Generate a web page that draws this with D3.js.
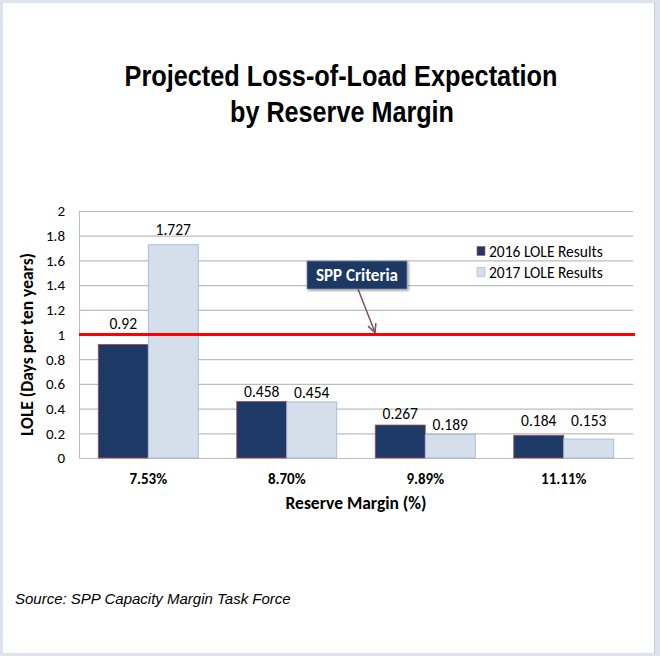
<!DOCTYPE html>
<html>
<head>
<meta charset="utf-8">
<script src="https://cdn.jsdelivr.net/npm/d3@7"></script>
<style>
  html, body { margin: 0; padding: 0; background: #dce3ef; }
  svg { display: block; }
</style>
</head>
<body>
<div id="chart"></div>
<script>
const categories = ["7.53%", "8.70%", "9.89%", "11.11%"];
const seriesNames = ["2016 LOLE Results", "2017 LOLE Results"];
const lole2016 = [0.92, 0.458, 0.267, 0.184];
const lole2017 = [1.727, 0.454, 0.189, 0.153];
const yTicks = [0, 0.2, 0.4, 0.6, 0.8, 1, 1.2, 1.4, 1.6, 1.8, 2];
const criteria = 1;

// how far each value label sits above its bar (px), as placed in the original
const labelLift = [[15, 10], [4, 4], [6, 5], [9, 13]];

const width = 660, height = 656;
const margin = { top: 211, right: 27, bottom: 198, left: 79 };
const fontMain = "Carlito, Lato, 'Open Sans', sans-serif";

const colors = {
  dark: "#1d3a66", darkStroke: "#b04a52",
  light: "#d5deeb", lightStroke: "#9cb4d8",
  grid: "#bdbdbd", red: "#ff0000", arrow: "#7f4f5f"
};

const data = categories.map((c, i) => ({ cat: c, idx: i, values: [lole2016[i], lole2017[i]] }));

const svg = d3.select("#chart").append("svg")
  .attr("width", width).attr("height", height);

// frame
svg.append("rect").attr("width", width).attr("height", height).attr("fill", "#dce3ef");
svg.append("rect").attr("x", 3).attr("y", 3).attr("width", 651).attr("height", 650)
  .attr("fill", "#fff");
svg.append("line").attr("x1", 654.5).attr("x2", 654.5).attr("y1", 3).attr("y2", 653)
  .attr("stroke", "#c8ccd4");

const x = d3.scaleBand().domain(categories)
  .range([margin.left, width - margin.right])
  .paddingInner(0.278).paddingOuter(0.139);
const xs = d3.scaleBand().domain([0, 1]).range([0, x.bandwidth()]);
const y = d3.scaleLinear().domain([0, 2]).range([height - margin.bottom, margin.top]);

// title
const title = svg.append("text").attr("text-anchor", "middle")
  .attr("font-family", "'Liberation Sans Narrow', 'Arial Narrow', 'Liberation Sans', sans-serif")
  .attr("font-weight", "bold").attr("font-size", 30).attr("fill", "#000")
  .attr("lengthAdjust", "spacingAndGlyphs");
title.append("tspan").attr("x", 341).attr("y", 86)
  .attr("textLength", 433).attr("lengthAdjust", "spacingAndGlyphs")
  .text("Projected Loss-of-Load Expectation");
title.append("tspan").attr("x", 342).attr("y", 122)
  .attr("textLength", 224).attr("lengthAdjust", "spacingAndGlyphs")
  .text("by Reserve Margin");

// grid + y axis
const yAxis = svg.append("g")
  .attr("transform", `translate(${margin.left},0)`)
  .call(d3.axisLeft(y).tickValues(yTicks).tickFormat(d3.format("~g"))
    .tickSize(-(x.range()[1] - margin.left)).tickPadding(14));
yAxis.select(".domain").attr("stroke", colors.grid);
yAxis.selectAll(".tick line").attr("stroke", colors.grid).attr("stroke-width", 1.2);
yAxis.selectAll(".tick text").attr("font-family", fontMain).attr("font-size", 15).attr("fill", "#000");

// x axis
const xAxis = svg.append("g")
  .attr("transform", `translate(0,${y(0)})`)
  .call(d3.axisBottom(x).tickSize(0).tickPadding(15));
xAxis.select(".domain").attr("stroke", colors.grid).attr("stroke-width", 1.2);
xAxis.selectAll(".tick text").attr("font-family", fontMain).attr("font-size", 15)
  .attr("font-weight", "bold").attr("fill", "#000");

// bars
const groups = svg.append("g").selectAll("g").data(data).join("g")
  .attr("transform", d => `translate(${x(d.cat)},0)`);
groups.selectAll("rect").data(d => d.values).join("rect")
  .attr("x", (v, i) => xs(i))
  .attr("y", v => y(v))
  .attr("width", xs.bandwidth())
  .attr("height", v => y(0) - y(v))
  .attr("fill", (v, i) => i === 0 ? colors.dark : colors.light)
  .attr("stroke", (v, i) => i === 0 ? colors.darkStroke : colors.lightStroke)
  .attr("stroke-width", 0.8);
groups.selectAll("text").data(d => d.values.map((v, i) => ({ v, i, lift: labelLift[d.idx][i] })))
  .join("text")
  .attr("x", d => xs(d.i) + xs.bandwidth() / 2)
  .attr("y", d => y(d.v) - d.lift)
  .attr("text-anchor", "middle")
  .attr("font-family", fontMain).attr("font-size", 15.5).attr("fill", "#000")
  .text(d => String(d.v));

// criteria line
svg.append("line")
  .attr("x1", margin.left).attr("x2", x.range()[1] + 2)
  .attr("y1", y(criteria)).attr("y2", y(criteria))
  .attr("stroke", colors.red).attr("stroke-width", 3);

// legend
const legend = svg.append("g").selectAll("g").data(seriesNames).join("g")
  .attr("transform", (d, i) => `translate(477,${251 + i * 21})`);
legend.append("rect").attr("x", 0).attr("y", -4.5).attr("width", 8).attr("height", 9)
  .attr("fill", (d, i) => i === 0 ? colors.dark : colors.light)
  .attr("stroke", (d, i) => i === 0 ? colors.darkStroke : colors.lightStroke)
  .attr("stroke-width", 0.6);
legend.append("text").attr("x", 12).attr("y", 5.5)
  .attr("font-family", fontMain).attr("font-size", 15.5).attr("fill", "#000")
  .text(d => d);

// SPP Criteria callout
const defs = svg.append("defs");
defs.append("marker").attr("id", "arr").attr("viewBox", "0 0 10 10")
  .attr("refX", 9).attr("refY", 5).attr("markerWidth", 7).attr("markerHeight", 7)
  .attr("orient", "auto")
  .append("path").attr("d", "M1,1 L9,5 L1,9").attr("fill", "none")
  .attr("stroke", colors.arrow).attr("stroke-width", 1.5);
defs.append("filter").attr("id", "shadow")
  .append("feDropShadow").attr("dx", 1.5).attr("dy", 1.5).attr("stdDeviation", 1)
  .attr("flood-color", "#000").attr("flood-opacity", 0.35);

svg.append("line").attr("x1", 358).attr("y1", 289).attr("x2", 375).attr("y2", y(criteria) - 2)
  .attr("stroke", colors.arrow).attr("stroke-width", 1.5).attr("marker-end", "url(#arr)");
svg.append("rect").attr("x", 307).attr("y", 261).attr("width", 100).attr("height", 28)
  .attr("fill", "#1f3864").attr("stroke", "#7a8aa8").attr("stroke-width", 0.8)
  .attr("filter", "url(#shadow)");
svg.append("text").attr("x", 357).attr("y", 281).attr("text-anchor", "middle")
  .attr("font-family", fontMain).attr("font-size", 17).attr("font-weight", "bold")
  .attr("fill", "#fff").text("SPP Criteria");

// axis titles
svg.append("text")
  .attr("transform", `translate(33,${(y(0) + y(2)) / 2 + 10}) rotate(-90)`)
  .attr("text-anchor", "middle")
  .attr("font-family", fontMain).attr("font-size", 17.5).attr("font-weight", "bold")
  .text("LOLE (Days per ten years)");
svg.append("text")
  .attr("x", (margin.left + x.range()[1]) / 2).attr("y", 509)
  .attr("text-anchor", "middle")
  .attr("font-family", fontMain).attr("font-size", 17.5).attr("font-weight", "bold")
  .text("Reserve Margin (%)");

// source
svg.append("text").attr("x", 15).attr("y", 604)
  .attr("font-family", "'Liberation Sans', Arial, sans-serif")
  .attr("font-style", "italic").attr("font-size", 15)
  .text("Source: SPP Capacity Margin Task Force");
</script>
</body>
</html>
